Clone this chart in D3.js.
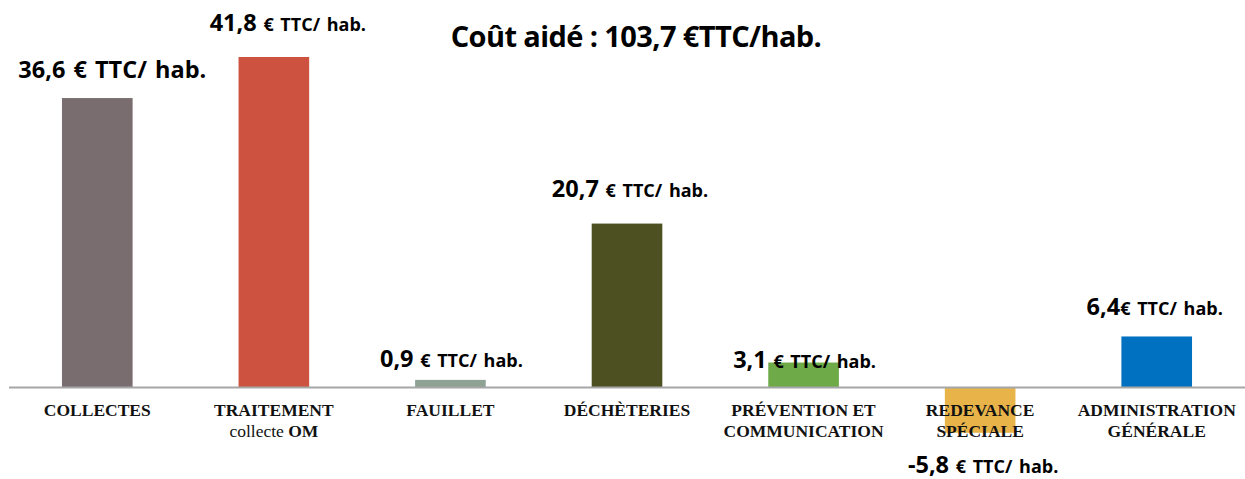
<!DOCTYPE html>
<html lang="fr">
<head>
<meta charset="utf-8">
<script src="https://cdn.jsdelivr.net/npm/d3@7"></script>
<style>
  html, body { margin: 0; padding: 0; background: #fff; }
  svg { display: block; }
  .val { font-family: "Open Sans", "Noto Sans", sans-serif; font-weight: 700; fill: #000; }
  .cat { font-family: "Liberation Serif", "DejaVu Serif", serif; font-weight: 700; fill: #111; }
</style>
</head>
<body>
<svg id="chart" width="1245" height="479"></svg>
<script>
// Coût par habitant, par poste
const categories = ["COLLECTES", "TRAITEMENT", "FAUILLET", "DÉCHÈTERIES", "PRÉVENTION", "REDEVANCE", "ADMINISTRATION"];
const categoryLines = [
  [["COLLECTES", 700]],
  [["TRAITEMENT", 700], ["collecte OM", 400]],
  [["FAUILLET", 700]],
  [["DÉCHÈTERIES", 700]],
  [["PRÉVENTION ET", 700], ["COMMUNICATION", 700]],
  [["REDEVANCE", 700], ["SPÉCIALE", 700]],
  [["ADMINISTRATION", 700], ["GÉNÉRALE", 700]]
];
const values = [36.6, 41.8, 0.9, 20.7, 3.1, -5.8, 6.4];
const units = [" € TTC/ hab.", " € TTC/ hab.", " € TTC/ hab.", " € TTC/ hab.", " € TTC/ hab.", " € TTC/ hab.", "€ TTC/ hab."];
const unitLarge = [true, false, false, false, false, false, false];
const colors = ["#7a6d70", "#cd5340", "#8fa395", "#4d5020", "#6eaa48", "#e8b44a", "#0070c0"];
const totalLabel = "Coût aidé : 103,7 €TTC/hab.";

// label placement relative to bar centre / bar end
const labelDx = [15, 14, 1, 3, 1, 3, -2];
const labelGap = [20, 26, 13, 27, -5.5, 40, 21.5];

const svg = d3.select("#chart");
const W = 1245;

const x = d3.scaleBand()
  .domain(categories)
  .range([9, 1245])
  .paddingInner(0.6)
  .paddingOuter(0.3);

const y = d3.scaleLinear()
  .domain([0, 41.8])
  .range([387, 57]);

const fmt = v => d3.format(".1f")(v).replace(".", ",").replace("−", "-");

// bars
svg.append("g")
  .selectAll("rect")
  .data(values)
  .join("rect")
  .attr("x", (d, i) => x(categories[i]))
  .attr("width", x.bandwidth())
  .attr("y", d => Math.min(y(d), y(0)))
  .attr("height", d => Math.abs(y(d) - y(0)))
  .attr("fill", (d, i) => colors[i]);

// zero axis line
svg.append("line")
  .attr("x1", 9).attr("x2", W)
  .attr("y1", y(0) + 0.5).attr("y2", y(0) + 0.5)
  .attr("stroke", "#a6a6a6")
  .attr("stroke-width", 2);

// category labels
const cat = svg.append("g");
categoryLines.forEach((lines, i) => {
  const cx = x(categories[i]) + x.bandwidth() / 2;
  lines.forEach((ln, j) => {
    const t = cat.append("text")
      .attr("class", "cat")
      .attr("x", cx)
      .attr("y", 416 + j * 21)
      .attr("text-anchor", "middle")
      .style("font-size", "17.5px");
    if (ln[0] === "collecte OM") {
      t.append("tspan").attr("font-weight", 400).text("collecte ");
      t.append("tspan").attr("font-weight", 700).text("OM");
    } else {
      t.attr("font-weight", ln[1]).text(ln[0]);
    }
  });
});

// value labels
const lab = svg.append("g");
values.forEach((v, i) => {
  const cx = x(categories[i]) + x.bandwidth() / 2 + labelDx[i];
  const yy = v >= 0 ? y(v) - labelGap[i] : y(v) + labelGap[i];
  const t = lab.append("text")
    .attr("class", "val")
    .attr("x", cx)
    .attr("y", yy)
    .attr("text-anchor", "middle")
    .style("word-spacing", "2px");
  t.append("tspan").style("font-size", "23.5px").text(fmt(v));
  t.append("tspan").style("font-size", unitLarge[i] ? "23.5px" : "18px").text(units[i]);
});

// total
svg.append("text")
  .attr("class", "val")
  .attr("x", 636)
  .attr("y", 47)
  .attr("text-anchor", "middle")
  .style("font-size", "29px")
  .style("letter-spacing", "-0.6px")
  .text(totalLabel);
</script>
</body>
</html>
